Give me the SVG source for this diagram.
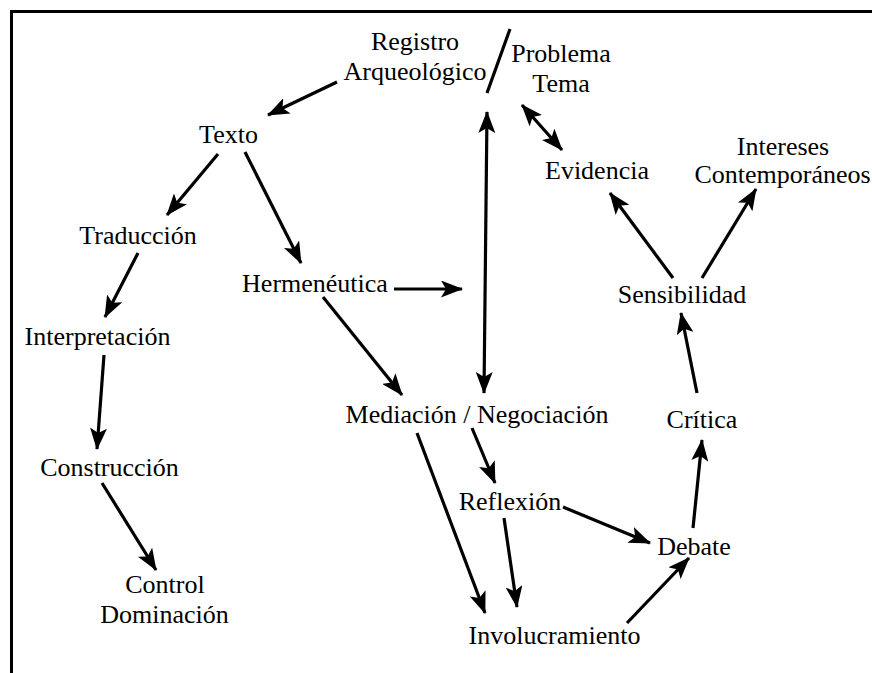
<svg xmlns="http://www.w3.org/2000/svg" width="872" height="673" viewBox="0 0 872 673">
<style>
  text { font-family: "Liberation Serif", "Times New Roman", serif; font-size: 26px; fill: #000; text-anchor: middle; }
  .c { stroke: #000; stroke-width: 3.2; fill: none; }
  .a { marker-end: url(#ah); }
  .d { marker-start: url(#ah); marker-end: url(#ah); }
</style>
<defs>
  <marker id="ah" viewBox="0 0 22 17" refX="21" refY="8.5" markerWidth="22" markerHeight="17" markerUnits="userSpaceOnUse" orient="auto-start-reverse">
    <path d="M0,0 L22,8.5 L0,17 L5,8.5 z" fill="#000"/>
  </marker>
</defs>
<rect width="872" height="673" fill="#fff"/>
<path d="M11.5,673 V11.5 H872" stroke="#000" stroke-width="3" fill="none"/>

<g id="registro">
  <text x="415" y="50">Registro</text>
  <text x="415" y="80">Arqueológico</text>
</g>
<g id="problema">
  <text x="561" y="62">Problema</text>
  <text x="561" y="92">Tema</text>
</g>
<g id="texto"><text x="228.5" y="143">Texto</text></g>
<g id="evidencia"><text x="597" y="179">Evidencia</text></g>
<g id="intereses">
  <text x="783" y="155">Intereses</text>
  <text x="782.5" y="183">Contemporáneos</text>
</g>
<g id="traduccion"><text x="138" y="244">Traducción</text></g>
<g id="hermeneutica"><text x="315" y="292">Hermenéutica</text></g>
<g id="sensibilidad"><text x="682" y="303">Sensibilidad</text></g>
<g id="interpretacion"><text x="97.5" y="345">Interpretación</text></g>
<g id="mediacion"><text x="477" y="423">Mediación / Negociación</text></g>
<g id="critica"><text x="702" y="428">Crítica</text></g>
<g id="construccion"><text x="109.5" y="476">Construcción</text></g>
<g id="reflexion"><text x="510" y="510">Reflexión</text></g>
<g id="debate"><text x="694" y="555">Debate</text></g>
<g id="control">
  <text x="165" y="593">Control</text>
  <text x="164.5" y="623">Dominación</text>
</g>
<g id="involucramiento"><text x="554.5" y="644">Involucramiento</text></g>

<g id="connectors">
  <line class="c" x1="510" y1="29" x2="487" y2="93"/>
  <line class="c a" x1="337" y1="82" x2="268" y2="115"/>
  <line class="c d" x1="522" y1="105" x2="562" y2="150"/>
  <line class="c d" x1="487" y1="112" x2="484" y2="393"/>
  <line class="c a" x1="218" y1="154" x2="167" y2="215"/>
  <line class="c a" x1="245" y1="152" x2="301" y2="263"/>
  <line class="c a" x1="138" y1="253" x2="105" y2="317"/>
  <line class="c a" x1="104" y1="355" x2="97" y2="449"/>
  <line class="c a" x1="102" y1="483" x2="156" y2="570"/>
  <line class="c a" x1="394" y1="289" x2="462" y2="289"/>
  <line class="c a" x1="323" y1="297" x2="402" y2="395"/>
  <line class="c a" x1="417" y1="433" x2="485" y2="613"/>
  <line class="c a" x1="472" y1="428" x2="495" y2="483"/>
  <line class="c a" x1="504" y1="518" x2="517" y2="607"/>
  <line class="c a" x1="563" y1="507" x2="650" y2="543"/>
  <line class="c a" x1="627" y1="623" x2="689" y2="558"/>
  <line class="c a" x1="693" y1="528" x2="702" y2="440"/>
  <line class="c a" x1="697" y1="393" x2="681" y2="313"/>
  <line class="c a" x1="673" y1="278" x2="610" y2="193"/>
  <line class="c a" x1="702" y1="278" x2="756" y2="189"/>
</g>
</svg>
